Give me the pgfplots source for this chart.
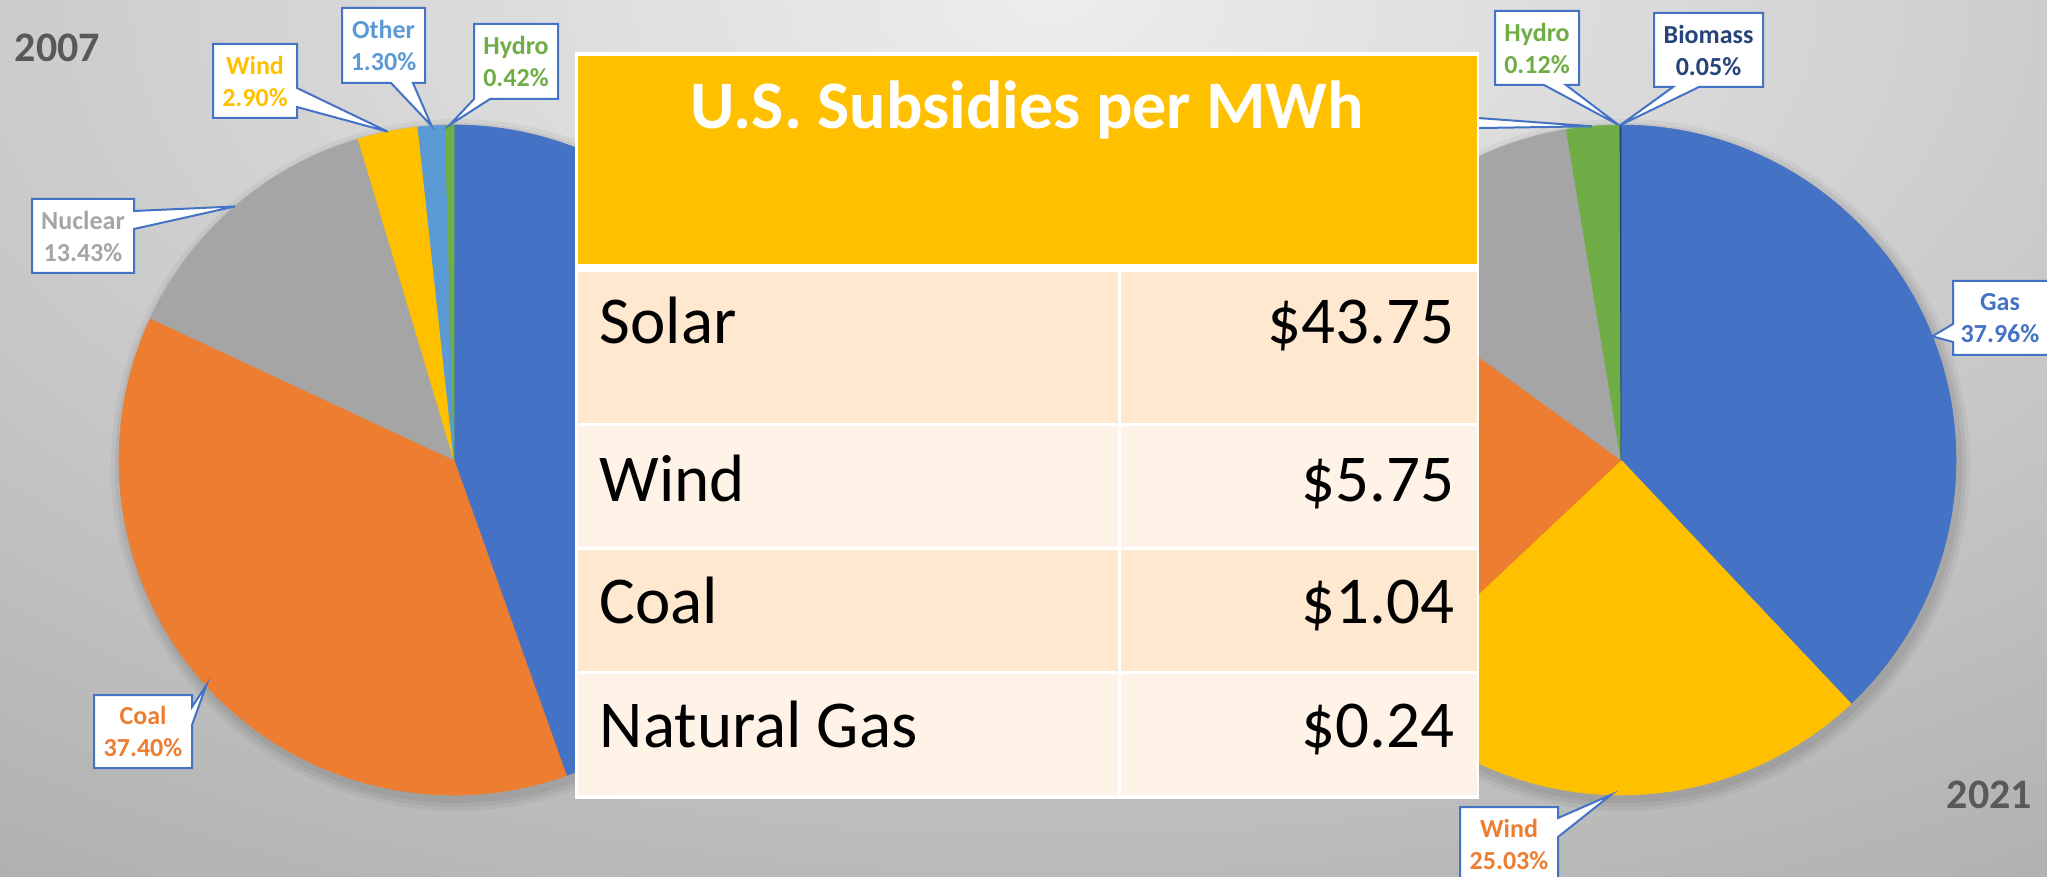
\documentclass[border=0pt]{standalone}
\usepackage{pgfplots}
\pgfplotsset{compat=1.18}
\usepackage{pgfplotstable}
\usepackage{fontspec}
\setmainfont{Carlito}

\definecolor{cblue}{HTML}{4472C4}
\definecolor{corange}{HTML}{ED7D31}
\definecolor{cgray}{HTML}{A5A5A5}
\definecolor{cyellow}{HTML}{FFC000}
\definecolor{clblue}{HTML}{5B9BD5}
\definecolor{cgreen}{HTML}{70AD47}
\definecolor{cnavy}{HTML}{264478}
\definecolor{rowA}{HTML}{FEE8CF}
\definecolor{rowB}{HTML}{FFF3E7}
\definecolor{yeartxt}{HTML}{595959}
\definecolor{bgin}{HTML}{EDEDED}
\definecolor{bgout}{HTML}{B0B0B0}

% generation shares, clockwise from 12 o'clock
\pgfplotstableread{
source share color
Gas     44.55 cblue
Coal    37.40 corange
Nuclear 13.43 cgray
Wind     2.90 cyellow
Other    1.30 clblue
Hydro    0.42 cgreen
}\pieA

\pgfplotstableread{
source share color
Gas     37.96 cblue
Wind    25.03 cyellow
Coal    22.00 corange
Nuclear 12.40 cgray
Solar    2.44 cgreen
Hydro    0.12 cgreen
Biomass  0.05 cnavy
}\pieB

\def\R{83.75pt}% pie radius (335 px)

% #1 table, #2 #3 centre, #4 prefix for the rim points
\newcommand\drawpie[4]{%
  \pgfplotstablegetrowsof{#1}%
  \pgfmathtruncatemacro\nlast{\pgfplotsretval-1}%
  \def\acc{0}%
  \pgfplotsforeachungrouped \i in {0,...,\nlast}{%
    \pgfplotstablegetelem{\i}{share}\of{#1}\let\slshare\pgfplotsretval
    \pgfplotstablegetelem{\i}{color}\of{#1}\let\slcol\pgfplotsretval
    \pgfmathsetmacro\aone{90-3.6*\acc}%
    \pgfmathsetmacro\atwo{90-3.6*(\acc+\slshare)}%
    \pgfmathsetmacro\amid{(\aone+\atwo)/2}%
    \pgfmathsetmacro\tx{#2+335*cos(\amid)}%
    \pgfmathsetmacro\ty{#3-335*sin(\amid)}%
    \expandafter\xdef\csname #4\i\endcsname{\tx,\ty}%
    \edef\cmd{\noexpand\filldraw[fill=\slcol, draw=\slcol, line width=0.15pt]
      (axis cs:#2,#3) -- ++(\aone:\R) arc[start angle=\aone, end angle=\atwo, radius=\R] -- cycle;}%
    \cmd
    \pgfmathsetmacro\acc{\acc+\slshare}%
  }%
}

\tikzset{callout/.style={draw=cblue, fill=white, line width=0.5pt}}

% callout boxes: x1 y1 x2 y2, pointer base b1 b2, rim point name
\newcommand\calloutR[7]{\edef\cmd{\noexpand\filldraw[callout] (axis cs:#1,#2) -- (axis cs:#3,#2) -- (axis cs:#3,#5)
  -- (axis cs:\csname #7\endcsname) -- (axis cs:#3,#6) -- (axis cs:#3,#4) -- (axis cs:#1,#4) -- cycle;}\cmd}
\newcommand\calloutB[7]{\edef\cmd{\noexpand\filldraw[callout] (axis cs:#1,#2) -- (axis cs:#3,#2) -- (axis cs:#3,#4)
  -- (axis cs:#6,#4) -- (axis cs:\csname #7\endcsname) -- (axis cs:#5,#4) -- (axis cs:#1,#4) -- cycle;}\cmd}
\newcommand\calloutL[7]{\edef\cmd{\noexpand\filldraw[callout] (axis cs:#1,#2) -- (axis cs:#3,#2) -- (axis cs:#3,#4)
  -- (axis cs:#1,#4) -- (axis cs:#1,#6) -- (axis cs:\csname #7\endcsname) -- (axis cs:#1,#5) -- cycle;}\cmd}

\newcommand\lab{\bfseries\fontsize{6.5}{8}\selectfont}
\newcommand\cell{\fontsize{16.75}{20}\selectfont}

\begin{document}
\begin{tikzpicture}
\begin{axis}[
  x=0.25pt, y=0.25pt, y dir=reverse,
  xmin=0, xmax=2047, ymin=0, ymax=877,
  hide axis, clip=true,
]
% background (outer colour reached at the rectangle's border)
\shade[inner color=bgin, outer color=bgout] (axis cs:-850,-1050) rectangle (axis cs:2950,1050);

% soft shadows under the pies
\fill[black, opacity=0.05] (axis cs:457,465) circle[radius=84.5pt];
\fill[black, opacity=0.05] (axis cs:457,465) circle[radius=85.5pt];
\fill[black, opacity=0.04] (axis cs:457,465) circle[radius=86.5pt];
\fill[black, opacity=0.05] (axis cs:1624,465) circle[radius=84.5pt];
\fill[black, opacity=0.05] (axis cs:1624,465) circle[radius=85.5pt];
\fill[black, opacity=0.04] (axis cs:1624,465) circle[radius=86.5pt];

\drawpie{\pieA}{454}{460}{tipA}
\drawpie{\pieB}{1621}{460}{tipB}

% 2007 callouts
\calloutR{213}{44}{297}{118}{88}{107}{tipA3}
\node[font=\lab, text=cyellow, align=center] at (axis cs:255,81) {Wind\\2.90\%};
\calloutB{342}{8}{425}{83}{391}{413}{tipA4}
\node[font=\lab, text=clblue, align=center] at (axis cs:383.5,45.5) {Other\\1.30\%};
\calloutB{474}{24}{558}{99}{474}{490}{tipA5}
\node[font=\lab, text=cgreen, align=center] at (axis cs:516,61.5) {Hydro\\0.42\%};
\calloutR{32}{199}{134}{273}{211}{229}{tipA2}
\node[font=\lab, text=cgray, align=center] at (axis cs:83,236) {Nuclear\\13.43\%};
\calloutR{94}{695}{192}{768}{707}{725}{tipA1}
\node[font=\lab, text=corange, align=center] at (axis cs:143,731.5) {Coal\\37.40\%};

% 2021 callouts
\calloutR{1350}{100}{1450}{170}{116}{128.5}{tipB4}
\calloutB{1495}{11}{1579}{85}{1544}{1566}{tipB5}
\node[font=\lab, text=cgreen, align=center] at (axis cs:1537,48) {Hydro\\0.12\%};
\calloutB{1654}{13}{1763}{87}{1673}{1699}{tipB6}
\node[font=\lab, text=cnavy, align=center] at (axis cs:1708.5,50) {Biomass\\0.05\%};
\calloutL{1953}{281}{2060}{355}{324}{342}{tipB0}
\node[font=\lab, text=cblue, align=center] at (axis cs:2000,318) {Gas\\37.96\%};
\calloutR{1460}{807}{1558}{881}{818}{837}{tipB1}
\node[font=\lab, text=corange, align=center] at (axis cs:1509,844) {Wind\\25.03\%};

% years
\node[anchor=base west, inner sep=0, font=\bfseries\fontsize{10.5}{12}\selectfont, text=yeartxt] at (axis cs:14,62) {2007};
\node[anchor=base west, inner sep=0, font=\bfseries\fontsize{10.5}{12}\selectfont, text=yeartxt] at (axis cs:1946,808) {2021};

% subsidies table
\fill[white] (axis cs:575,52) rectangle (axis cs:1479,799);
\fill[cyellow] (axis cs:578,56) rectangle (axis cs:1477,264);
\fill[rowA] (axis cs:578,272) rectangle (axis cs:1477,423);
\fill[rowB] (axis cs:578,426) rectangle (axis cs:1477,547);
\fill[rowA] (axis cs:578,550) rectangle (axis cs:1477,671);
\fill[rowB] (axis cs:578,674) rectangle (axis cs:1477,795);
\draw[white, line width=0.75pt] (axis cs:1119,264) -- (axis cs:1119,799);
\node[anchor=base, inner sep=0, text=white, font=\bfseries\fontsize{17}{20}\selectfont] at (axis cs:1027,129) {U.S. Subsidies per MWh};
\node[anchor=base west, inner sep=0, font=\cell] at (axis cs:599,343) {Solar};
\node[anchor=base east, inner sep=0, font=\cell] at (axis cs:1455,343) {\$43.75};
\node[anchor=base west, inner sep=0, font=\cell] at (axis cs:599,501) {Wind};
\node[anchor=base east, inner sep=0, font=\cell] at (axis cs:1455,501) {\$5.75};
\node[anchor=base west, inner sep=0, font=\cell] at (axis cs:599,623) {Coal};
\node[anchor=base east, inner sep=0, font=\cell] at (axis cs:1455,623) {\$1.04};
\node[anchor=base west, inner sep=0, font=\cell] at (axis cs:599,747) {Natural Gas};
\node[anchor=base east, inner sep=0, font=\cell] at (axis cs:1455,747) {\$0.24};
\end{axis}
\pgfresetboundingbox
\useasboundingbox (current axis.south west) rectangle (current axis.north east);
\end{tikzpicture}
\end{document}
